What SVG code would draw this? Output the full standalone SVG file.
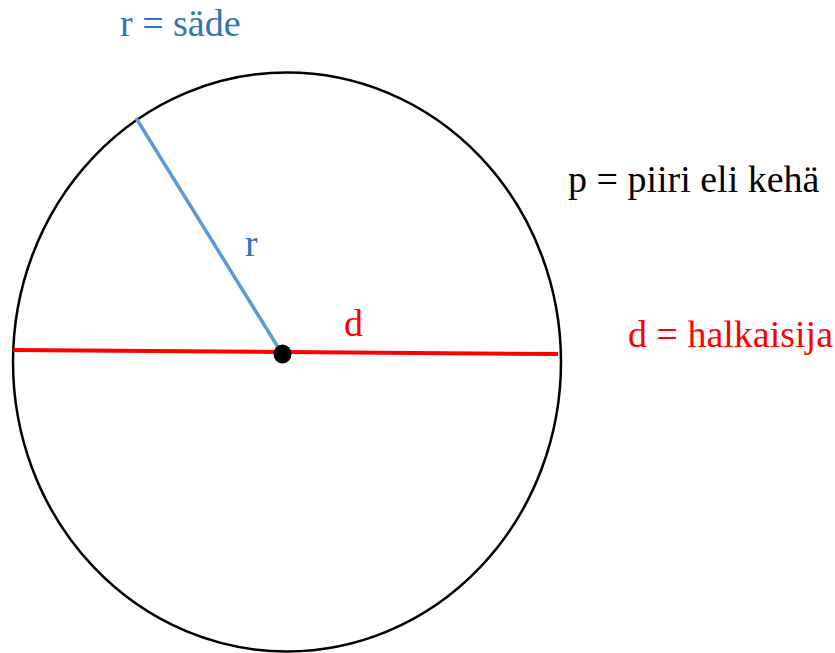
<svg xmlns="http://www.w3.org/2000/svg" width="835" height="653" viewBox="0 0 835 653">
<style>
text{font-family:"Liberation Serif","Times New Roman",serif;font-size:38px}
.blue{fill:#2e75b6}
.red{fill:#ff0000}
</style>
<rect width="835" height="653" fill="#fff"/>
<g id="circle"><ellipse cx="287" cy="362" rx="274" ry="289.5" fill="none" stroke="#000" stroke-width="2.5"/></g>
<g id="connectors">
<line x1="136" y1="118" x2="281" y2="352" stroke="#5b9bd5" stroke-width="3.5"/>
<line x1="13" y1="350" x2="558" y2="354" stroke="#ff0000" stroke-width="4"/>
</g>
<g id="center"><ellipse cx="282.5" cy="354" rx="9" ry="9.5" fill="#000"/></g>
<g id="labels">
<text x="120" y="36" class="blue">r = säde</text>
<text x="245" y="256" class="blue">r</text>
<text x="568" y="192">p = piiri eli kehä</text>
<text x="344" y="336" class="red">d</text>
<text x="628" y="347" class="red">d = halkaisija</text>
</g>
</svg>
